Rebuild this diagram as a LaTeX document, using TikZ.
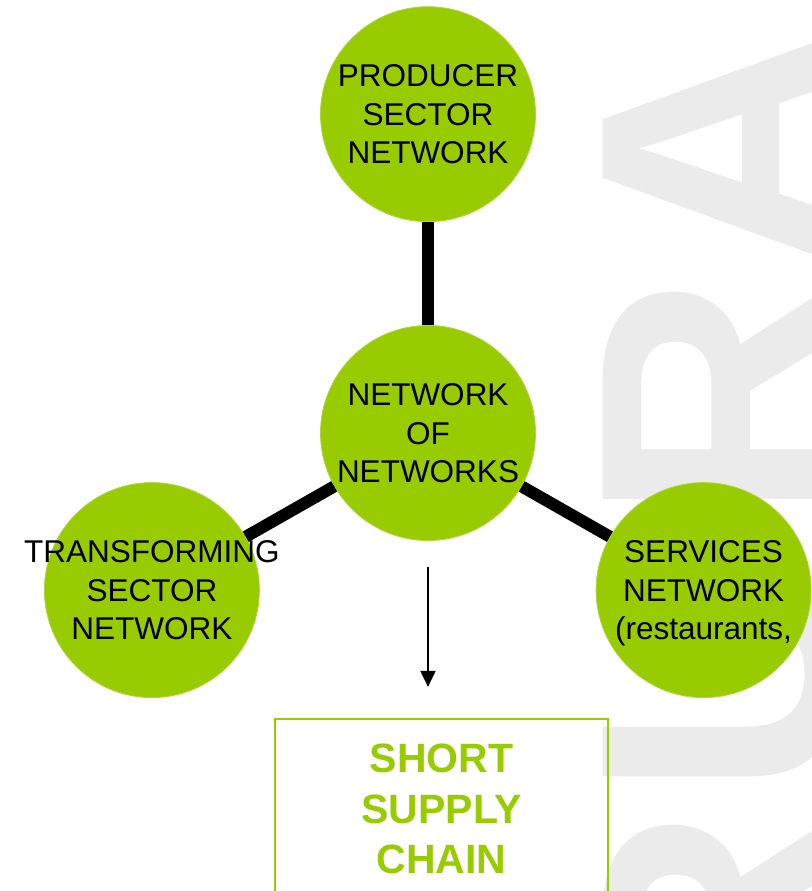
\documentclass[tikz,border=0pt]{standalone}
\usepackage{fontspec}
\setmainfont{Liberation Sans}
\usetikzlibrary{arrows.meta,positioning}
\definecolor{leafgreen}{HTML}{99CC00}
\definecolor{rimgreen}{HTML}{AED63F}
\definecolor{watergray}{HTML}{EBEBEB}

\begin{document}
\begin{tikzpicture}[x=1pt,y=-1pt]
  \tikzset{netcircle/.style={circle, fill=leafgreen, draw=rimgreen, line width=0.8pt, minimum size=215pt, inner sep=0pt}, nettext/.style={align=center, inner sep=0pt, text depth=0pt, font=\fontsize{31.5}{38.5}\selectfont}, spoke/.style={line width=12pt}, chainbox/.style={draw=leafgreen, line width=2pt, minimum width=333pt, minimum height=180pt, align=center, text=leafgreen, font=\fontsize{41}{50.5}\selectfont\bfseries}}
  \useasboundingbox (0,0) rectangle (811,891);
  \clip (0,0) rectangle (811,891);
  % big grey word behind everything
  \node[rotate=90, anchor=base west, inner sep=0pt, text=watergray, font=\fontsize{345}{345}\selectfont\bfseries] (rural) at (840,1056) {R\kern10pt U\kern25pt RA\kern20pt L};
  \node[netcircle, label={[nettext]center:NETWORK\\OF\\NETWORKS}] (hub) at (428,433) {};
  \node[netcircle, above=103pt of hub, label={[nettext]center:PRODUCER\\SECTOR\\NETWORK}] (prod) {};
  \node[netcircle, below left=4.5pt and 123.5pt of hub, label={[nettext]center:TRANSFORMING\\SECTOR\\NETWORK}] (trans) {};
  \node[netcircle, below right=4.5pt and 123pt of hub, label={[nettext]center:SERVICES\\NETWORK\\(restaurants,}] (serv) {};
  \node[chainbox, below=177pt of hub, xshift=13.5pt] (chain) {SHORT\\SUPPLY\\CHAIN};
  \draw[spoke] (prod) -- (hub);
  \draw[spoke] (hub) -- (trans);
  \draw[spoke] (hub) -- (serv);
  \draw[line width=2pt, -{Triangle[width=15pt,length=16pt]}, shorten <=26pt, shorten >=31pt] (hub) -- (hub |- chain.north);
\end{tikzpicture}
\end{document}
